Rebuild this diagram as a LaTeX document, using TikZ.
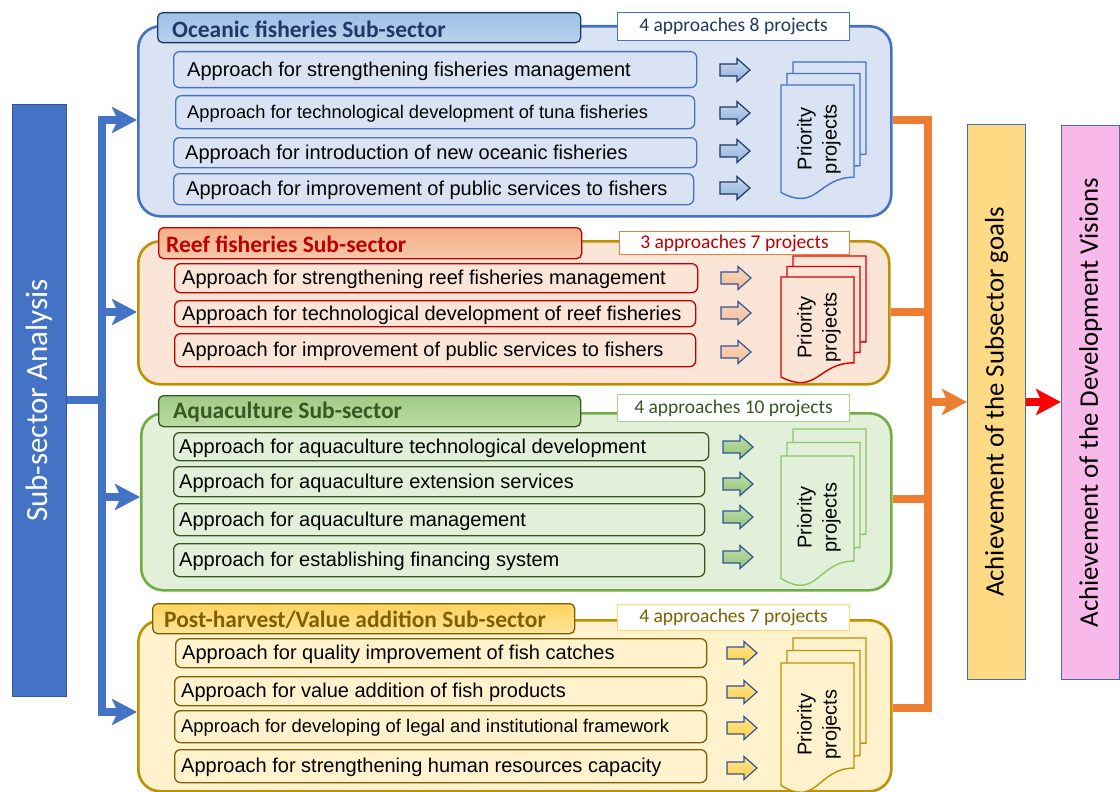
\documentclass[tikz,border=0pt]{standalone}
\usepackage{fontspec}
\setmainfont{Liberation Sans}
\newfontfamily\calib{Carlito}
\usetikzlibrary{arrows.meta}

\definecolor{acc1}{HTML}{4472C4}
\definecolor{navy}{HTML}{203864}
\definecolor{blueB}{HTML}{2F5597}
\definecolor{oceBg}{HTML}{DAE3F3}
\definecolor{reefBg}{HTML}{FBE5D6}
\definecolor{aquaBg}{HTML}{E2F0D9}
\definecolor{postBg}{HTML}{FFF2CC}
\definecolor{gold}{HTML}{BF9000}
\definecolor{darkred}{HTML}{C00000}
\definecolor{dkgreen}{HTML}{385723}
\definecolor{green}{HTML}{70AD47}
\definecolor{ltgreen}{HTML}{A9D18E}
\definecolor{brownT}{HTML}{7F6000}
\definecolor{orangeL}{HTML}{ED7D31}
\definecolor{yellowL}{HTML}{FFD966}
\definecolor{goalFill}{HTML}{FFDA85}
\definecolor{visFill}{HTML}{F9B8EA}
\definecolor{sideBorder}{HTML}{41719C}
% header shadings
\definecolor{HDRo1}{HTML}{9EBFE6}
\definecolor{HDRo2}{HTML}{BAD2EE}
\definecolor{HDRr1}{HTML}{F4AE86}
\definecolor{HDRr2}{HTML}{F8C8AA}
\definecolor{HDRa1}{HTML}{9FCB84}
\definecolor{HDRa2}{HTML}{BCDCA6}
\definecolor{HDRp1}{HTML}{FFD35C}
\definecolor{HDRp2}{HTML}{FFE49A}
% block arrow shadings
\definecolor{ARo1}{HTML}{C9DAF0}
\definecolor{ARo2}{HTML}{8FAFDC}
\definecolor{ARr1}{HTML}{FAD6BE}
\definecolor{ARr2}{HTML}{F5BE98}
\definecolor{ARa1}{HTML}{BEDDA8}
\definecolor{ARa2}{HTML}{94C476}
\definecolor{ARp1}{HTML}{FFE48E}
\definecolor{ARp2}{HTML}{FFD04A}
\definecolor{DOCa}{HTML}{8CC66A}

% box with left-aligned text: box style, text style, name, x1, y1, x2, y2, pad, text
\newcommand\lbox[9]{%
  \pgfmathsetmacro\lbW{#6-#4}\pgfmathsetmacro\lbH{#7-#5}%
  \node[#1, anchor=north west, minimum width=\lbW pt, minimum height=\lbH pt] (#3) at (#4,#5) {};
  \node[#2, anchor=west, inner sep=0pt] (#3-t) at ([xshift=#8pt, yshift=-1.2pt]#3.west) {#9};}

% box with centred text: style, name, x1, y1, x2, y2, text
\newcommand\cbox[7]{%
  \pgfmathsetmacro\lbW{#5-#3}\pgfmathsetmacro\lbH{#6-#4}%
  \node[#1, anchor=north west, minimum width=\lbW pt, minimum height=\lbH pt, inner sep=0pt] (#2) at (#3,#4) {#7};}

% block arrow: x, y centre, style
\newcommand\blkarrow[3]{%
  \draw[#3, line width=1.2pt, line join=miter]
    (#1,#2-6) -- (#1+17,#2-6) -- (#1+17,#2-11.5) -- (#1+30,#2)
    -- (#1+17,#2+11.5) -- (#1+17,#2+6) -- (#1,#2+6) -- cycle;}

% one document page: x, y, w, h, style
\newcommand\docpage[5]{%
  \draw[#5] (#1,#2) -- (#1+#3,#2) -- (#1+#3,#2+0.802*#4)
    .. controls (#1+0.5*#3,#2+0.802*#4) and (#1+0.5*#3,#2+1.107*#4) .. (#1,#2+0.934*#4) -- cycle;}

% stack of three pages with a label: name, x, y, h, step, style
\newcommand\docstack[6]{%
  \docpage{#2+12}{#3-2*#5}{73}{#4}{#6}
  \docpage{#2+6}{#3-#5}{73}{#4}{#6}
  \docpage{#2}{#3}{73}{#4}{#6}
  \node[ptext, rotate=90] (#1) at (#2+38,#3+0.47*#4) {Priority\\projects};}

\begin{document}
\begin{tikzpicture}[x=1pt, y=-1pt,
  outer/.style={rounded corners=22pt, line width=2.6pt, inner sep=0pt},
  hdr/.style={draw, rounded corners=5pt, line width=1.3pt},
  hdrtext/.style={font=\calib\bfseries\fontsize{23.5}{27}\selectfont},
  cnt/.style={draw, fill=white, line width=1.1pt, font=\calib\fontsize{19.5}{23}\selectfont},
  apbox/.style={draw, rounded corners=6pt, line width=1.3pt},
  aptext/.style={font=\fontsize{20}{24}\selectfont, text=black},
  ptext/.style={font=\fontsize{20}{25}\selectfont, align=center, inner sep=0pt},
  doc/.style={line width=1.4pt},
  bline/.style={draw=acc1, line width=7.5pt},
  barr/.style={bline, -{Stealth[length=25pt, width=26pt, inset=6pt]}},
  oline/.style={draw=orangeL, line width=8pt},
  oarr/.style={oline, -{Stealth[length=25pt, width=26pt, inset=6pt]}},
  rarr/.style={draw=red, line width=8pt, -{Stealth[length=25pt, width=26pt, inset=6pt]}},
  sidebox/.style={draw=sideBorder, line width=1.2pt, anchor=north west, inner sep=0pt},
  sidetext/.style={rotate=90, font=\calib\fontsize{26.8}{31}\selectfont}
]
\useasboundingbox (0,0) rectangle (1120,792);

% ---------- left and right bars ----------
\node[sidebox, draw=blueB, fill=acc1, minimum width=54pt, minimum height=592pt] (sa) at (12,104) {};
\node[rotate=90, text=white, font=\calib\fontsize{31}{36}\selectfont] (sa-t) at (sa.center) {Sub-sector Analysis};

\node[sidebox, fill=goalFill, minimum width=58pt, minimum height=555pt] (goal) at (967,124) {};
\node[sidetext] (goal-t) at (goal.center) {Achievement of the Subsector goals};

\node[sidebox, fill=visFill, minimum width=58pt, minimum height=554pt] (vis) at (1061,125) {};
\node[sidetext] (vis-t) at (vis.center) {Achievement of the Development Visions};

% ---------- Oceanic fisheries ----------
\node[outer, draw=acc1, fill=oceBg, anchor=north west, minimum width=753pt, minimum height=190pt] (oce) at (137,25) {};
\lbox{hdr, draw=navy, top color=HDRo1, bottom color=HDRo2}{hdrtext, text=navy}{oce-h}{157}{12}{580}{42}{15}{Oceanic fisheries Sub-sector}
\cbox{cnt, draw=acc1, text=navy}{oce-c}{617}{12}{849}{40}{4 approaches 8 projects}
\lbox{apbox, draw=acc1, fill=oceBg}{aptext}{oce-a1}{173}{51}{696}{87}{14}{Approach for strengthening fisheries management}
\lbox{apbox, draw=acc1, fill=oceBg}{aptext, font=\fontsize{18.3}{22}\selectfont}{oce-a2}{175}{95}{694}{128}{12}{Approach for technological development of tuna fisheries}
\lbox{apbox, draw=acc1, fill=oceBg}{aptext}{oce-a3}{173}{137}{696}{167}{12}{Approach for introduction of new oceanic fisheries}
\lbox{apbox, draw=acc1, fill=oceBg}{aptext}{oce-a4}{173}{173}{693}{204}{13}{Approach for improvement of public services to fishers}
\foreach \yy in {70,113,151,188}{\blkarrow{720}{\yy}{draw=navy, top color=ARo1, bottom color=ARo2}}
\docstack{oce-p}{781}{85}{115}{11.5}{doc, draw=acc1, fill=oceBg}

% ---------- Reef fisheries ----------
\node[outer, draw=gold, fill=reefBg, anchor=north west, minimum width=751pt, minimum height=143pt] (reef) at (137,240) {};
\lbox{hdr, draw=darkred, top color=HDRr1, bottom color=HDRr2}{hdrtext, text=darkred}{reef-h}{158}{227}{581}{258}{8}{Reef fisheries Sub-sector}
\cbox{cnt, draw=orangeL, text=darkred}{reef-c}{619}{231}{849}{254}{3 approaches 7 projects}
\lbox{apbox, draw=darkred, fill=reefBg}{aptext}{reef-a1}{174}{263}{697}{292}{8}{Approach for strengthening reef fisheries management}
\lbox{apbox, draw=darkred, fill=reefBg}{aptext}{reef-a2}{174}{300}{695}{326}{8}{Approach for technological development of reef fisheries}
\lbox{apbox, draw=darkred, fill=reefBg}{aptext}{reef-a3}{174}{333}{695}{366}{8}{Approach for improvement of public services to fishers}
\foreach \yy in {278,313,352}{\blkarrow{721}{\yy}{draw=blueB, top color=ARr1, bottom color=ARr2}}
\docstack{reef-p}{781}{277}{107}{10.5}{doc, draw=red!85!black, fill=reefBg}

% ---------- Aquaculture ----------
\node[outer, draw=green, fill=aquaBg, anchor=north west, minimum width=750pt, minimum height=177pt] (aqua) at (140,412) {};
\lbox{hdr, draw=dkgreen, top color=HDRa1, bottom color=HDRa2}{hdrtext, text=dkgreen}{aqua-h}{158}{395}{580}{426}{15}{Aquaculture Sub-sector}
\cbox{cnt, draw=ltgreen, text=dkgreen}{aqua-c}{617}{394}{849}{421}{4 approaches 10 projects}
\lbox{apbox, draw=dkgreen, fill=aquaBg}{aptext}{aqua-a1}{173}{432}{708}{460}{6}{Approach for aquaculture technological development}
\lbox{apbox, draw=dkgreen, fill=aquaBg}{aptext}{aqua-a2}{173}{466}{704}{496}{6}{Approach for aquaculture extension services}
\lbox{apbox, draw=dkgreen, fill=aquaBg}{aptext}{aqua-a3}{173}{503}{704}{535}{6}{Approach for aquaculture management}
\lbox{apbox, draw=dkgreen, fill=aquaBg}{aptext}{aqua-a4}{173}{543}{704}{576}{6}{Approach for establishing financing system}
\foreach \yy in {447,484,517,557}{\blkarrow{723}{\yy}{draw=blueB, top color=ARa1, bottom color=ARa2}}
\docstack{aqua-p}{781}{456}{131}{13.5}{doc, draw=DOCa, fill=aquaBg}

% ---------- Post-harvest ----------
\node[outer, draw=gold, fill=postBg, anchor=north west, minimum width=753pt, minimum height=171pt] (post) at (137,619) {};
\lbox{hdr, draw=brownT, top color=HDRp1, bottom color=HDRp2}{hdrtext, text=brownT}{post-h}{152}{603}{574}{633}{12}{Post-harvest/Value addition Sub-sector}
\cbox{cnt, draw=yellowL, text=brownT}{post-c}{617}{604}{849}{630}{4 approaches 7 projects}
\lbox{apbox, draw=brownT, fill=postBg}{aptext}{post-a1}{175}{638}{706}{667}{7}{Approach for quality improvement of fish catches}
\lbox{apbox, draw=brownT, fill=postBg}{aptext}{post-a2}{174}{676}{706}{705}{7}{Approach for value addition of fish products}
\lbox{apbox, draw=brownT, fill=postBg}{aptext, font=\fontsize{18.4}{22}\selectfont}{post-a3}{174}{710}{706}{742}{7}{Approach for developing of legal and institutional framework}
\lbox{apbox, draw=brownT, fill=postBg}{aptext}{post-a4}{174}{749}{706}{782}{7}{Approach for strengthening human resources capacity}
\foreach \yy in {653,692,728,768}{\blkarrow{727}{\yy}{draw=blueB, top color=ARp1, bottom color=ARp2}}
\docstack{post-p}{781}{663}{131}{12.5}{doc, draw=gold, fill=postBg}

% ---------- blue distribution connector ----------
\coordinate (bj) at (102,400);
\coordinate (b1) at (102,120);
\coordinate (b2) at (102,312);
\coordinate (b3) at (102,497);
\coordinate (b4) at (102,712);
\draw[bline] (sa.east |- bj) -- (bj);
\draw[bline, line cap=rect] (b1) -- (b4);
\draw[barr] (b1) -- (oce.west |- b1);
\draw[barr] (b2) -- (reef.west |- b2);
\draw[barr] (b3) -- (aqua.west |- b3);
\draw[barr] (b4) -- (post.west |- b4);

% ---------- orange collecting connector ----------
\coordinate (o1) at (928,120);
\coordinate (o2) at (928,312);
\coordinate (o3) at (928,499);
\coordinate (o4) at (928,708);
\coordinate (oj) at (928,402);
\draw[oline] (oce.east |- o1) -- (o1);
\draw[oline] (reef.east |- o2) -- (o2);
\draw[oline] (aqua.east |- o3) -- (o3);
\draw[oline] (post.east |- o4) -- (o4);
\draw[oline, line cap=rect] (o1) -- (o4);
\draw[oarr] (oj) -- (goal.west |- oj);
\draw[rarr] (goal.east |- oj) -- (vis.west |- oj);
\end{tikzpicture}
\end{document}
